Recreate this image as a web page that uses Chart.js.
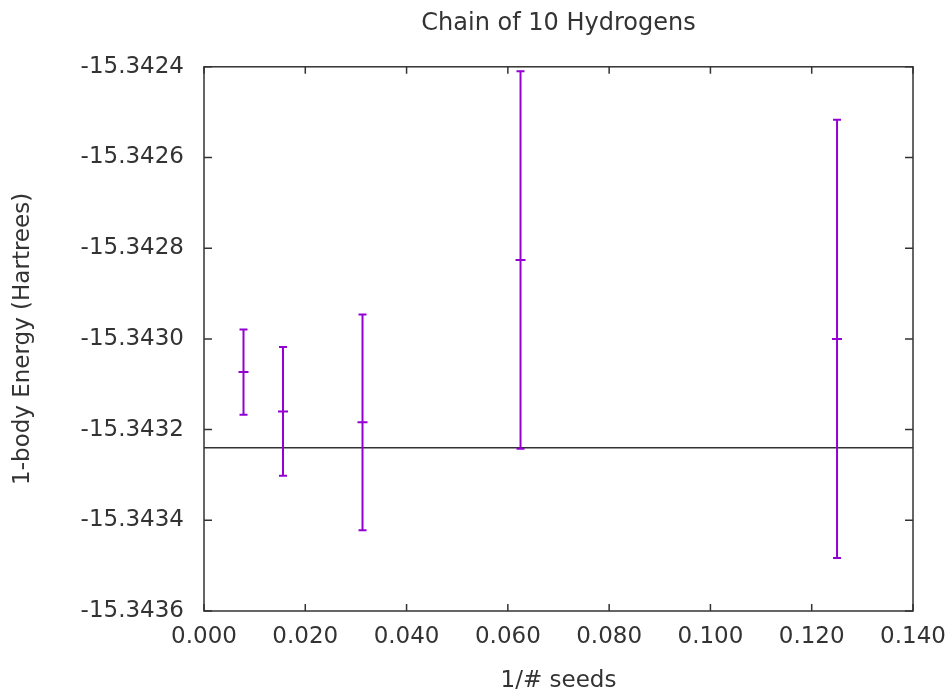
<!DOCTYPE html>
<html lang="en">
<head>
<meta charset="UTF-8">
<title>Chain of 10 Hydrogens</title>
<script src="https://cdn.jsdelivr.net/npm/chart.js"></script>
<style>
  html, body { margin: 0; padding: 0; background: #fff; }
  #wrap { width: 947px; height: 691px; }
</style>
</head>
<body>
<div id="wrap"><canvas id="myChart" width="947" height="691"></canvas></div>
<script>
// values: x = 1/#seeds, y = 1-body energy with its error
const invSeeds = [0.0078, 0.0156, 0.0313, 0.0625, 0.125];
const energies = [-15.343073, -15.34316, -15.343184, -15.342826, -15.343000];
const errors = [0.000094, 0.000142, 0.000238, 0.000416, 0.000483];
const refEnergy = -15.34324;

// axis ranges / tick spacing
const xRange = [0, 0.14];
const xStep = 0.02;
const yRange = [-15.3436, -15.3424];
const yStep = 0.0002;

const purple = '#9400d3';
const ink = '#333';

Chart.defaults.font.family = "'DejaVu Sans', sans-serif";
Chart.defaults.font.size = 23;
Chart.defaults.color = ink;

// vertical bars, one segment per point, split by null gaps
const barData = [];
const capData = [];
const centerData = [];
for (let i = 0; i < invSeeds.length; i++) {
    const lo = energies[i] - errors[i];
    const hi = energies[i] + errors[i];
    barData.push({x: invSeeds[i], y: lo}, {x: invSeeds[i], y: hi}, {x: invSeeds[i], y: null});
    capData.push({x: invSeeds[i], y: lo}, {x: invSeeds[i], y: hi});
    centerData.push({x: invSeeds[i], y: energies[i]});
}

// gnuplot style box with inward ticks on all four sides
const framePlugin = {
    id: 'frame',
    afterDatasetsDraw(chart) {
        const {ctx, chartArea: a, scales} = chart;
        ctx.save();
        ctx.strokeStyle = ink;
        ctx.lineWidth = 1.5;
        ctx.strokeRect(a.left, a.top, a.right - a.left, a.bottom - a.top);
        ctx.beginPath();
        scales.y.ticks.forEach(t => {
            const py = scales.y.getPixelForValue(t.value);
            ctx.moveTo(a.left, py); ctx.lineTo(a.left + 8, py);
            ctx.moveTo(a.right, py); ctx.lineTo(a.right - 8, py);
        });
        scales.x.ticks.forEach(t => {
            const px = scales.x.getPixelForValue(t.value);
            ctx.moveTo(px, a.bottom); ctx.lineTo(px, a.bottom - 7);
            ctx.moveTo(px, a.top); ctx.lineTo(px, a.top + 7);
        });
        ctx.stroke();
        ctx.restore();
    }
};

const ctx = document.getElementById('myChart').getContext('2d');
new Chart(ctx, {
    type: 'scatter',
    data: {
        datasets: [
            {
                data: centerData,
                pointStyle: 'line',
                pointRadius: 5,
                pointBorderWidth: 2,
                borderColor: purple,
                backgroundColor: purple
            },
            {
                data: capData,
                pointStyle: 'line',
                pointRadius: 4,
                pointBorderWidth: 2,
                borderColor: purple,
                backgroundColor: purple
            },
            {
                data: barData,
                showLine: true,
                spanGaps: false,
                pointRadius: 0,
                borderWidth: 2,
                borderColor: purple
            },
            {
                data: [{x: xRange[0], y: refEnergy}, {x: xRange[1], y: refEnergy}],
                showLine: true,
                pointRadius: 0,
                borderWidth: 1.5,
                borderColor: ink
            }
        ]
    },
    options: {
        responsive: false,
        animation: false,
        layout: { padding: { left: 0, right: 34, top: 0, bottom: 0 } },
        plugins: {
            legend: { display: false },
            tooltip: { enabled: false },
            title: {
                display: true,
                text: 'Chain of 10 Hydrogens',
                fullSize: false,
                color: ink,
                font: { size: 24, weight: 'normal' },
                padding: { top: 9, bottom: 29 }
            }
        },
        scales: {
            x: {
                type: 'linear',
                min: xRange[0],
                max: xRange[1],
                grid: { display: false, drawTicks: false },
                border: { display: false },
                ticks: {
                    stepSize: xStep,
                    padding: 12,
                    color: ink,
                    maxRotation: 0,
                    callback: v => v.toFixed(3)
                },
                title: {
                    display: true,
                    text: '1/# seeds',
                    color: ink,
                    font: { size: 23, lineHeight: 1 },
                    padding: { top: 0, bottom: -2 }
                },
                afterFit(scale) {
                    scale.height = 80;
                    scale.paddingLeft = 0;
                    scale.paddingRight = 0;
                }
            },
            y: {
                type: 'linear',
                min: yRange[0],
                max: yRange[1],
                grid: { display: false, drawTicks: false },
                border: { display: false },
                ticks: {
                    stepSize: yStep,
                    padding: 20,
                    color: ink,
                    callback: v => v.toFixed(4)
                },
                title: {
                    display: true,
                    text: '1-body Energy (Hartrees)',
                    color: ink,
                    font: { size: 23, lineHeight: 1 },
                    padding: { top: 12, bottom: 0 }
                },
                afterFit(scale) { scale.width = 204; }
            }
        }
    },
    plugins: [framePlugin]
});
</script>
</body>
</html>
